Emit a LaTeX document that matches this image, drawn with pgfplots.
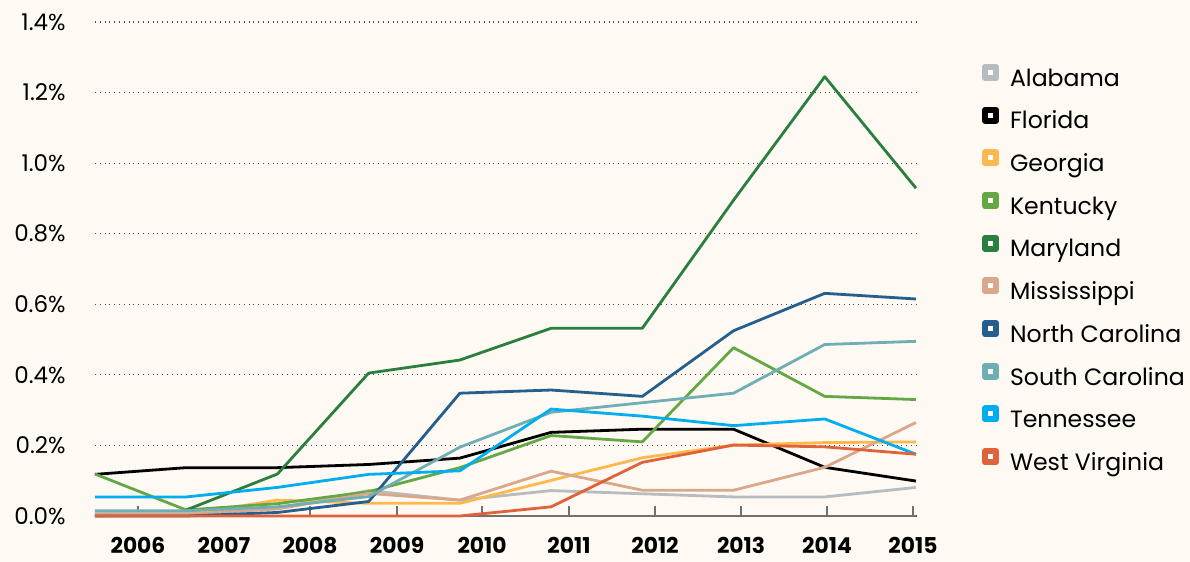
\documentclass[border=0pt]{standalone}
\usepackage{fontspec}
\setmainfont{Poppins}
\usepackage{pgfplots}
\pgfplotsset{compat=1.18}
\definecolor{bgc}{HTML}{FEF9F2}
\definecolor{cAL}{HTML}{B7BCBF}
\definecolor{cFL}{HTML}{000000}
\definecolor{cGA}{HTML}{FDB94D}
\definecolor{cKY}{HTML}{64A844}
\definecolor{cMD}{HTML}{2A7F3F}
\definecolor{cMS}{HTML}{D9A88A}
\definecolor{cNC}{HTML}{255F8E}
\definecolor{cSC}{HTML}{6FAEB5}
\definecolor{cTN}{HTML}{00AEEF}
\definecolor{cWV}{HTML}{E0623A}
\definecolor{axgray}{HTML}{707070}
\begin{document}
\begin{tikzpicture}
\path[use as bounding box, fill=bgc] (0,0) rectangle (595pt,281pt);
\begin{axis}[
  at={(47.5pt,23pt)}, anchor=south west,
  scale only axis, width=410.5pt, height=247pt,
  xmin=0, xmax=9, ymin=0, ymax=1.4,
  clip=false,
  axis lines*=left,
  x axis line style={draw=axgray, line width=1pt},
  y axis line style={draw=none},
  xtick={0.471,1.414,2.357,3.311,4.243,5.196,6.139,7.082,8.025,8.967},
  xticklabels={2006,2007,2008,2009,2010,2011,2012,2013,2014,2015},
  xtick style={draw=axgray, line width=0.6pt},
  xtick align=inside,
  major tick length=5pt,
  ytick={0,0.2,0.4,0.6,0.8,1.0,1.2,1.4},
  ytick style={draw=none},
  ymajorgrids,
  grid style={dotted, line width=0.6pt, black!70},
  /pgf/number format/assume math mode=true,
  yticklabel={\pgfmathprintnumber[fixed,fixed zerofill,precision=1]{\tick}\%},
  yticklabel style={font=\fontsize{11.5}{13}\selectfont, inner sep=0pt, anchor=east, xshift=-14.5pt},
  xticklabel style={font=\fontsize{10.9}{13}\selectfont\bfseries, inner sep=0pt, anchor=north, yshift=-10.5pt},
  every axis plot/.append style={line width=1.4pt, mark=none, line join=round},
  legend cell align=left,
  legend image code/.code={\draw[#1, line width=3pt, fill=white] (1.5pt,1.4pt) rectangle (7pt,6.9pt);},
  legend style={at={(axis description cs:1.08,0.916)}, anchor=north west, draw=none, fill=none, inner sep=0pt,
    font=\fontsize{11.8}{14}\selectfont, row sep=7.4pt, column sep=5.5pt,
    nodes={inner sep=0pt, text height=8.3pt, text depth=2.8pt}},
]
\addplot[cAL] coordinates {(0,0.010)(1,0.010)(2,0.022)(3,0.072)(4,0.045)(5,0.072)(6,0.063)(7,0.054)(8,0.054)(9,0.081)};
\addlegendentry{Alabama}
\addplot[cFL] coordinates {(0,0.118)(1,0.137)(2,0.137)(3,0.146)(4,0.164)(5,0.237)(6,0.246)(7,0.246)(8,0.138)(9,0.099)};
\addlegendentry{Florida}
\addplot[cGA] coordinates {(0,0.0)(1,0.003)(2,0.045)(3,0.036)(4,0.036)(5,0.101)(6,0.165)(7,0.201)(8,0.208)(9,0.210)};
\addlegendentry{Georgia}
\addplot[cKY] coordinates {(0,0.119)(1,0.017)(2,0.035)(3,0.069)(4,0.137)(5,0.228)(6,0.210)(7,0.477)(8,0.339)(9,0.330)};
\addlegendentry{Kentucky}
\addplot[cMD] coordinates {(1,0.017)(2,0.119)(3,0.405)(4,0.442)(5,0.532)(6,0.532)(7,0.895)(8,1.245)(9,0.929)};
\addlegendentry{Maryland}
\addplot[cMS] coordinates {(0,0.005)(1,0.005)(2,0.020)(3,0.064)(4,0.045)(5,0.127)(6,0.073)(7,0.073)(8,0.138)(9,0.265)};
\addlegendentry{Mississippi}
\addplot[cNC] coordinates {(0,0.0)(1,0.0)(2,0.010)(3,0.041)(4,0.348)(5,0.357)(6,0.339)(7,0.525)(8,0.631)(9,0.615)};
\addlegendentry{North Carolina}
\addplot[cSC] coordinates {(0,0.015)(1,0.015)(2,0.026)(3,0.055)(4,0.195)(5,0.294)(6,0.321)(7,0.348)(8,0.486)(9,0.495)};
\addlegendentry{South Carolina}
\addplot[cTN] coordinates {(0,0.054)(1,0.054)(2,0.081)(3,0.118)(4,0.128)(5,0.303)(6,0.283)(7,0.256)(8,0.275)(9,0.175)};
\addlegendentry{Tennessee}
\addplot[cWV] coordinates {(0,0.0)(1,0.0)(2,0.0)(3,0.0)(4,0.0)(5,0.026)(6,0.152)(7,0.201)(8,0.196)(9,0.175)};
\addlegendentry{West Virginia}
\end{axis}
\end{tikzpicture}
\end{document}
